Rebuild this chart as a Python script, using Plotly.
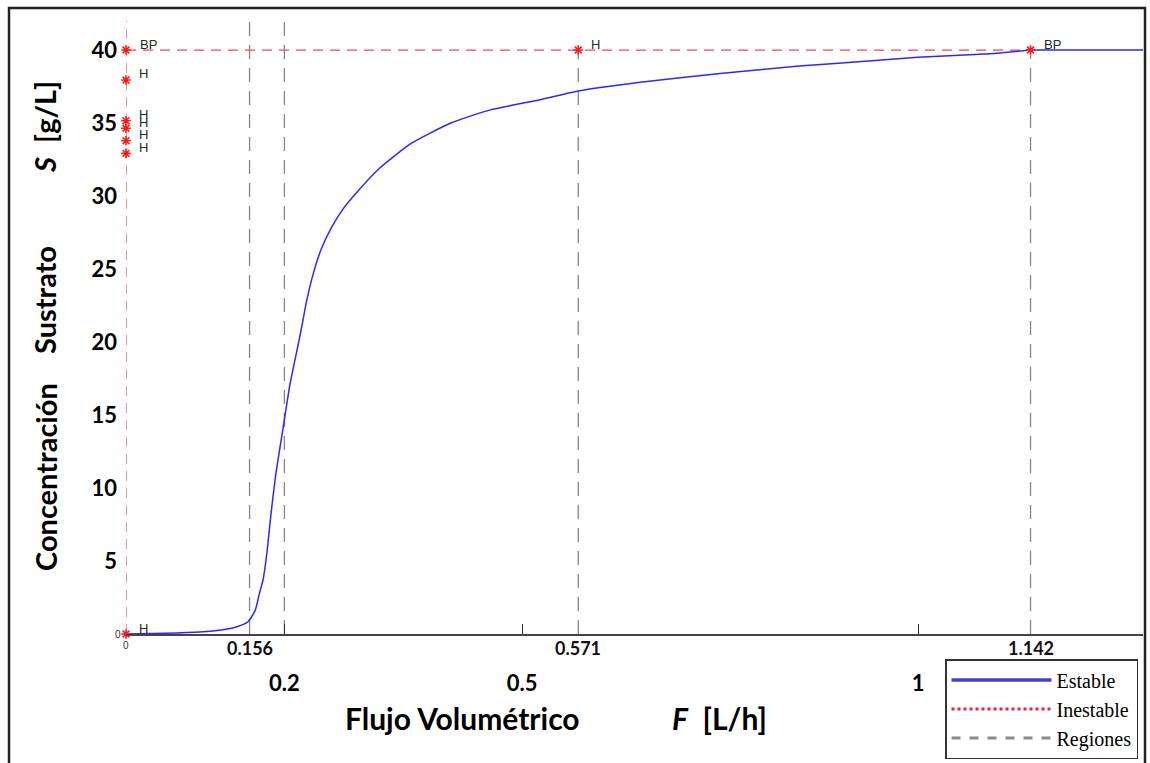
import plotly.graph_objects as go

# ---------------- data ----------------
F_estable = [0, 0.05, 0.093, 0.12, 0.14, 0.154, 0.163, 0.169, 0.173, 0.178, 0.183,
             0.189, 0.198, 0.207, 0.22, 0.228, 0.236, 0.246, 0.26, 0.274, 0.289, 0.32, 0.36, 0.41,
             0.46, 0.523, 0.571, 0.649, 0.75, 0.85, 0.95, 1.0, 1.091, 1.142]
S_estable = [0, 0.05, 0.14, 0.27, 0.5, 0.84, 1.6, 2.9, 3.7, 5.6, 8.2,
             10.9, 14.0, 17.1, 20.5, 22.8, 24.6, 26.3, 27.9, 29.1, 30.1, 31.9, 33.6, 35.0,
             35.9, 36.6, 37.2, 37.8, 38.4, 38.9, 39.3, 39.5, 39.75, 40.0]
F_estable_2 = [1.142, 1.284]
S_estable_2 = [40.0, 40.0]

F_inestable_v = [0, 0]
S_inestable_v = [0, 42.0]
F_inestable_h = [0, 1.142]
S_inestable_h = [40, 40]

F_regiones = [0.156, 0.2, 0.571, 1.142]
S_regiones_top = [42.0, 42.0, 40.0, 40.0]

F_puntos = [0, 0, 0, 0, 0, 0, 0, 0.571, 1.142]
S_puntos = [40, 37.95, 35.16, 34.64, 33.79, 32.92, 0, 40, 40]
L_puntos = ["BP", "H", "H", "H", "H", "H", "H", "H", "BP"]

y_ticks = [5, 10, 15, 20, 25, 30, 35, 40]
x_ticks = [0.2, 0.5, 1]
x_ticks_extra = [0.156, 0.571, 1.142]

RED = "#e8485f"
BLUE = "#2a2af5"
GRAY = "#858585"

fig = go.Figure()

# unstable branches
fig.add_trace(go.Scatter(x=F_inestable_v, y=S_inestable_v, mode="lines",
                         line=dict(color=RED, width=1.2, dash="10px,7px"),
                         showlegend=False, hoverinfo="skip", cliponaxis=False))
fig.add_trace(go.Scatter(x=F_inestable_h, y=S_inestable_h, mode="lines",
                         line=dict(color=RED, width=1.2, dash="10px,7px"),
                         showlegend=False, hoverinfo="skip"))
# region lines
for xr, yt in zip(F_regiones, S_regiones_top):
    fig.add_trace(go.Scatter(x=[xr, xr], y=[0, yt], mode="lines",
                             line=dict(color=GRAY, width=1.3, dash="14px,9px"),
                             showlegend=False, hoverinfo="skip"))
# stable branch
fig.add_trace(go.Scatter(x=F_estable, y=S_estable, mode="lines",
                         line=dict(color=BLUE, width=1.5, shape="spline", smoothing=0.5),
                         showlegend=False, hoverinfo="skip", cliponaxis=False))
fig.add_trace(go.Scatter(x=F_estable_2, y=S_estable_2, mode="lines",
                         line=dict(color=BLUE, width=1.5),
                         showlegend=False, hoverinfo="skip", cliponaxis=False))
# special points
fig.add_trace(go.Scatter(x=F_puntos, y=S_puntos, mode="markers",
                         marker=dict(symbol="asterisk", size=8,
                                     line=dict(color="#ff1a1a", width=1.6)),
                         showlegend=False, hoverinfo="skip", cliponaxis=False))

# legend entries
fig.add_trace(go.Scatter(x=[None], y=[None], mode="lines", name="Estable",
                         line=dict(color="#4343c8", width=3.5)))
fig.add_trace(go.Scatter(x=[None], y=[None], mode="lines", name="Inestable",
                         line=dict(color="#ee2040", width=3, dash="dot")))
fig.add_trace(go.Scatter(x=[None], y=[None], mode="lines", name="Regiones",
                         line=dict(color="#8a8a8a", width=3, dash="dash")))

annotations = []
for xp, yp, lab in zip(F_puntos, S_puntos, L_puntos):
    shift = 22 if lab == "BP" else 17
    annotations.append(dict(x=xp, y=yp, xref="x", yref="y", text=lab,
                            showarrow=False, xshift=shift, yshift=6,
                            xanchor="center", yanchor="middle",
                            font=dict(family="Liberation Sans", size=13, color="#1b2b2b")))
for xv in x_ticks_extra:
    annotations.append(dict(x=xv, y=-0.0224, xref="x", yref="paper", text="<b>%s</b>" % xv,
                            showarrow=False, xanchor="center", yanchor="middle",
                            font=dict(family="Lato", size=18, color="#111")))
# small zeros
annotations.append(dict(x=0, y=0, xref="x", yref="y", text="0", showarrow=False,
                        xshift=-8, xanchor="center", yanchor="middle",
                        font=dict(family="Liberation Sans", size=10, color="#333")))
annotations.append(dict(x=0, y=-0.018, xref="x", yref="paper", text="0", showarrow=False,
                        xanchor="center", yanchor="middle",
                        font=dict(family="Liberation Sans", size=10, color="#333")))
# axis titles
annotations.append(dict(x=(462 - 126) / 1017, y=(634 - 718) / 626, xref="paper", yref="paper",
                        text="<b>Flujo Volumétrico</b>", showarrow=False,
                        xanchor="center", yanchor="middle",
                        font=dict(family="Lato", size=30, color="#000")))
annotations.append(dict(x=(719 - 126) / 1017, y=(634 - 718) / 626, xref="paper", yref="paper",
                        text="<b><i>F</i>  [L/h]</b>", showarrow=False,
                        xanchor="center", yanchor="middle",
                        font=dict(family="Lato", size=30, color="#000")))
for txt, yc in [("<b>Concentración</b>", 477), ("<b>Sustrato</b>", 300), ("<b><i>S</i>  [g/L]</b>", 127)]:
    annotations.append(dict(x=(45 - 126) / 1017, y=(634 - yc) / 626, xref="paper", yref="paper",
                            text=txt, showarrow=False, textangle=-90,
                            xanchor="center", yanchor="middle",
                            font=dict(family="Lato", size=29, color="#000")))

shapes = [dict(type="rect", xref="paper", yref="paper",
               x0=(9 - 126) / 1017, x1=(1145 - 126) / 1017,
               y0=(634 - 800) / 626, y1=1.0,
               line=dict(color="#222", width=2.5), layer="above")]

fig.update_layout(
    width=1150, height=763,
    margin=dict(l=126, r=7, t=8, b=129, autoexpand=False),
    paper_bgcolor="white", plot_bgcolor="white",
    xaxis=dict(range=[0, 1.284], showgrid=False, zeroline=False,
               showline=True, linecolor="#444", linewidth=1.5,
               tickvals=x_ticks, ticktext=["<b>0.2</b>", "<b>0.5</b>", "<b>1</b>"],
               ticks="inside", ticklen=10, tickcolor="#333", tickwidth=1,
               ticklabelstandoff=29,
               tickfont=dict(family="Lato", size=22, color="#000")),
    yaxis=dict(range=[0, 42.88], showgrid=False, zeroline=False, showline=False,
               tickvals=y_ticks, ticktext=["<b>%d</b>" % v for v in y_ticks],
               ticks="", ticklabelstandoff=8,
               tickfont=dict(family="Lato", size=22, color="#000")),
    legend=dict(x=(945 - 126) / 1017, xanchor="left", y=(634 - 659) / 626, yanchor="top",
                bgcolor="white", bordercolor="#333", borderwidth=1.5,
                font=dict(family="Liberation Serif", size=20, color="#000"),
                tracegroupgap=0, itemwidth=100),
    annotations=annotations,
    shapes=shapes,
)

fig.write_html("out.html")
